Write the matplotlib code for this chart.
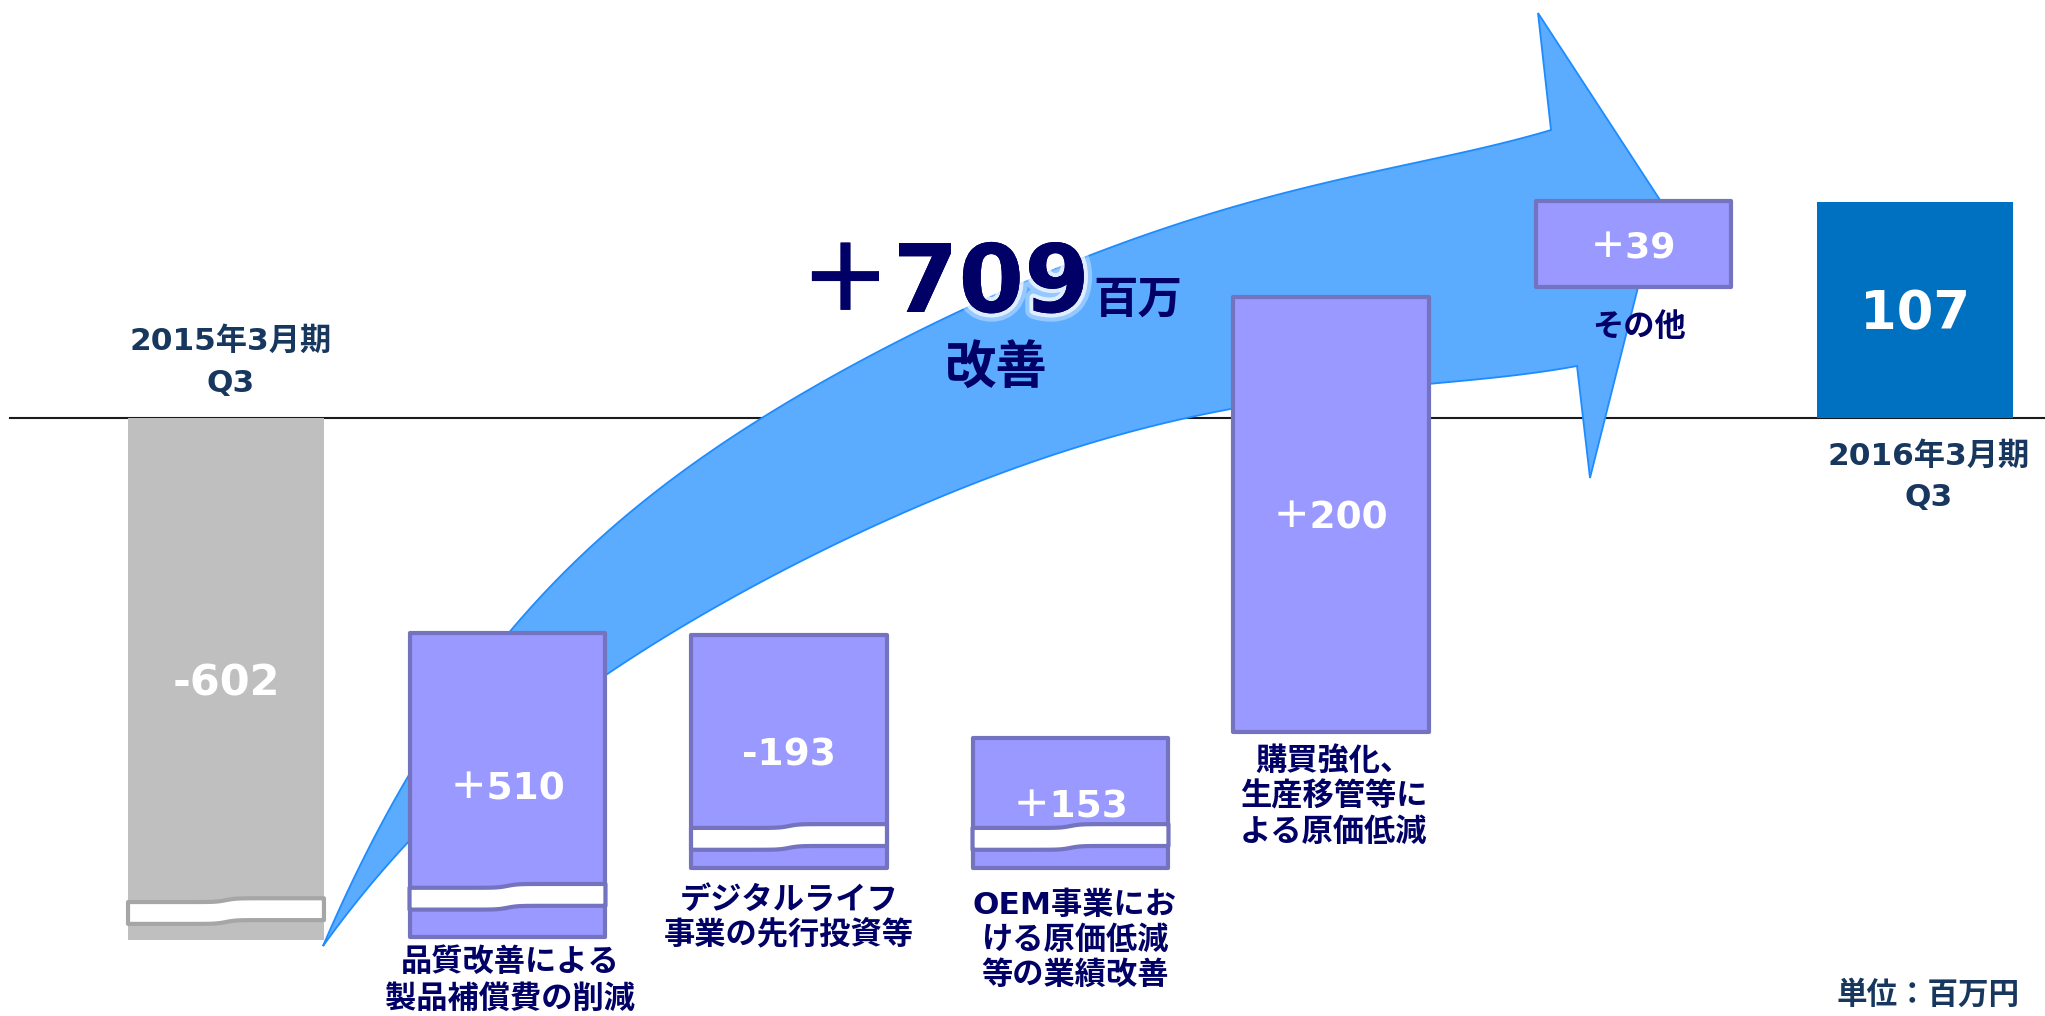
import numpy as np
import matplotlib
matplotlib.use("Agg")
import matplotlib.pyplot as plt
from matplotlib.patches import Polygon
from matplotlib.transforms import Affine2D, blended_transform_factory
import matplotlib.patheffects as pe

plt.rcParams['font.family'] = ['DejaVu Sans', 'Noto Sans CJK JP']

# ---------------- data ----------------
categories = ['2015年3月期\nQ3', '品質改善による\n製品補償費の削減', 'デジタルライフ\n事業の先行投資等',
              'OEM事業にお\nける原価低減\n等の業績改善', '購買強化、\n生産移管等に\nよる原価低減',
              'その他', '2016年3月期\nQ3']
values = [-602, 510, -193, 153, 200, 39, 107]
value_labels = ['-602', '＋510', '-193', '＋153', '＋200', '＋39', '107']
kinds = ['total', 'delta', 'delta', 'delta', 'delta', 'delta', 'total']
# extents as drawn on the chart's broken (compressed) scale
shown_high = [0, -102.4, -103.3, -152.4, 57.6, 103.3, 102.9]
shown_low = [-248.6, -247.1, -214.3, -214.3, -149.5, 62.4, 0]
total_change = '＋709'
total_unit = '百万'
total_word = '改善'
unit_note = '単位：百万円'

# ---------------- layout / style ----------------
W, H = 2045, 1016
PXU = 2.1                    # pixels per unit on drawn scale
BASE_PX = 418
x_shift = [0, 0, 0, 0, -0.075, 0, 0]
bar_w = 0.696
break_center = [-234.8, -228.0, -199.5, -199.5, None, None, None]
label_first_px = [341, 962, 900, 905, 761, 327, 456]
label_step_px = [42, 37, 35, 35, 35.5, 35, 42]
label_dx = [0.015, 0.01, 0, 0.015, 0.01, 0.02, 0.05]
label_colors = ['#17375E', '#000066', '#000066', '#000066', '#000066', '#000066', '#17375E']
value_sizes = [31, 27, 27, 27, 27, 26, 38]

PURPLE = '#9999FF'
PURPLE_EDGE = '#7373BF'
GRAY = '#BFBFBF'
GRAY_EDGE = '#A6A6A6'
BLUE_END = '#0070C0'
ARROW_FILL = '#5BABFF'
ARROW_EDGE = '#1E8CFF'

fig = plt.figure(figsize=(W / 100, H / 100), dpi=100)
ax = fig.add_axes([0, 0, 1, 1])
ax.set_xlim(-0.8028, 6.4618)
ax.set_ylim(-(H - BASE_PX) / PXU, BASE_PX / PXU)
ax.axis('off')

pix = Affine2D().scale(1 / W, -1 / H).translate(0, 1) + fig.transFigure
xdata_ypix = blended_transform_factory(ax.transData, pix)

# baseline
ax.plot([10 / W, 1], [1 - BASE_PX / H] * 2, transform=fig.transFigure,
        color='#1a1a1a', lw=1.5, zorder=1)


# ---------------- big curved arrow (decoration) ----------------
def smooth_edge(pts, deg=5, n=400):
    P = np.array(pts, float)
    x, y = P[:, 0], P[:, 1]
    xn = (x - x[0]) / (x[-1] - x[0])
    w = np.ones(len(x))
    w[0] = w[-1] = 10
    c = np.polyfit(xn, y, deg, w=w)
    t = np.linspace(0, 1, n)
    yy = np.polyval(c, t)
    e0, e1 = y[0] - yy[0], y[-1] - yy[-1]
    yy = yy + e0 + (e1 - e0) * t
    return np.column_stack([x[0] + t * (x[-1] - x[0]), yy])


upper = [(323, 946), (372, 844), (420, 757), (470, 680), (507, 633), (537, 600), (640, 510),
         (760, 418), (823, 380), (967, 307), (1163, 230), (1370, 173), (1520, 136), (1551, 130)]
lower = [(323, 946), (430, 818), (606, 673), (630, 660), (730, 603), (860, 532), (1023, 460),
         (1201, 418), (1343, 395), (1500, 372), (1577, 366)]
head = [(1538, 13), (1660, 200), (1590, 478)]
up = smooth_edge(upper)
lo = smooth_edge(lower)
arrow_pts = np.vstack([up, np.array(head), lo[::-1]])
ax.add_patch(Polygon(arrow_pts, closed=True, transform=pix, facecolor=ARROW_FILL,
                     edgecolor=ARROW_EDGE, lw=1.3, zorder=2, joinstyle='miter'))

# ---------------- bars ----------------
xs = np.arange(len(values)) + np.array(x_shift)
for i, (x, hi, lo_) in enumerate(zip(xs, shown_high, shown_low)):
    if kinds[i] == 'total':
        fc = GRAY if values[i] < 0 else BLUE_END
        ec, lw = 'none', 0
    else:
        fc, ec, lw = PURPLE, PURPLE_EDGE, 3
    bars = ax.bar(x, hi - lo_, bottom=lo_, width=bar_w, color=fc, edgecolor=ec,
                  linewidth=lw, zorder=3)
    for b in bars:
        b.set_joinstyle('round')
    # break marks
    if break_center[i] is not None:
        bc = break_center[i]
        xx = np.linspace(x - bar_w / 2, x + bar_w / 2, 80)
        step = 0.9 * np.tanh((xx - x) / (0.05 * bar_w))
        hh = 5.2
        top = bc + hh + step
        bot = bc - hh + step
        poly = np.vstack([np.column_stack([xx, top]), np.column_stack([xx[::-1], bot[::-1]])])
        ecol = GRAY_EDGE if kinds[i] == 'total' else PURPLE_EDGE
        ax.add_patch(Polygon(poly, closed=True, facecolor='white', edgecolor=ecol,
                             lw=3, zorder=4, joinstyle='round'))
    # value label
    ax.text(x, (hi + lo_) / 2 - 2.0, value_labels[i], ha='center', va='center',
            color='white', fontsize=value_sizes[i], fontweight='bold', zorder=6)

# ---------------- category labels ----------------
for i, cat in enumerate(categories):
    for j, line in enumerate(cat.split('\n')):
        ax.text(xs[i] + label_dx[i], label_first_px[i] + j * label_step_px[i], line,
                transform=xdata_ypix, ha='center', va='center', color=label_colors[i],
                fontsize=22.5, fontweight='bold', zorder=6)

# ---------------- total change annotation ----------------
glow = [pe.withStroke(linewidth=12, foreground=(1, 1, 1, 0.35)),
        pe.withStroke(linewidth=6, foreground=(1, 1, 1, 0.7)), pe.Normal()]
ax.text(1090, 312, total_change, transform=pix, ha='right', va='baseline',
        color='#000066', fontsize=68, fontweight='bold', zorder=7, path_effects=glow)
ax.text(1093, 313, total_unit, transform=pix, ha='left', va='baseline',
        color='#000066', fontsize=32, fontweight='bold', zorder=7)
ax.text(996, 370, total_word, transform=pix, ha='center', va='center',
        color='#000066', fontsize=37, fontweight='bold', zorder=7)

ax.text(2020, 995, unit_note, transform=pix, ha='right', va='center',
        color='#17375E', fontsize=22, fontweight='bold', zorder=7)

fig.savefig('out.png', dpi=100)
